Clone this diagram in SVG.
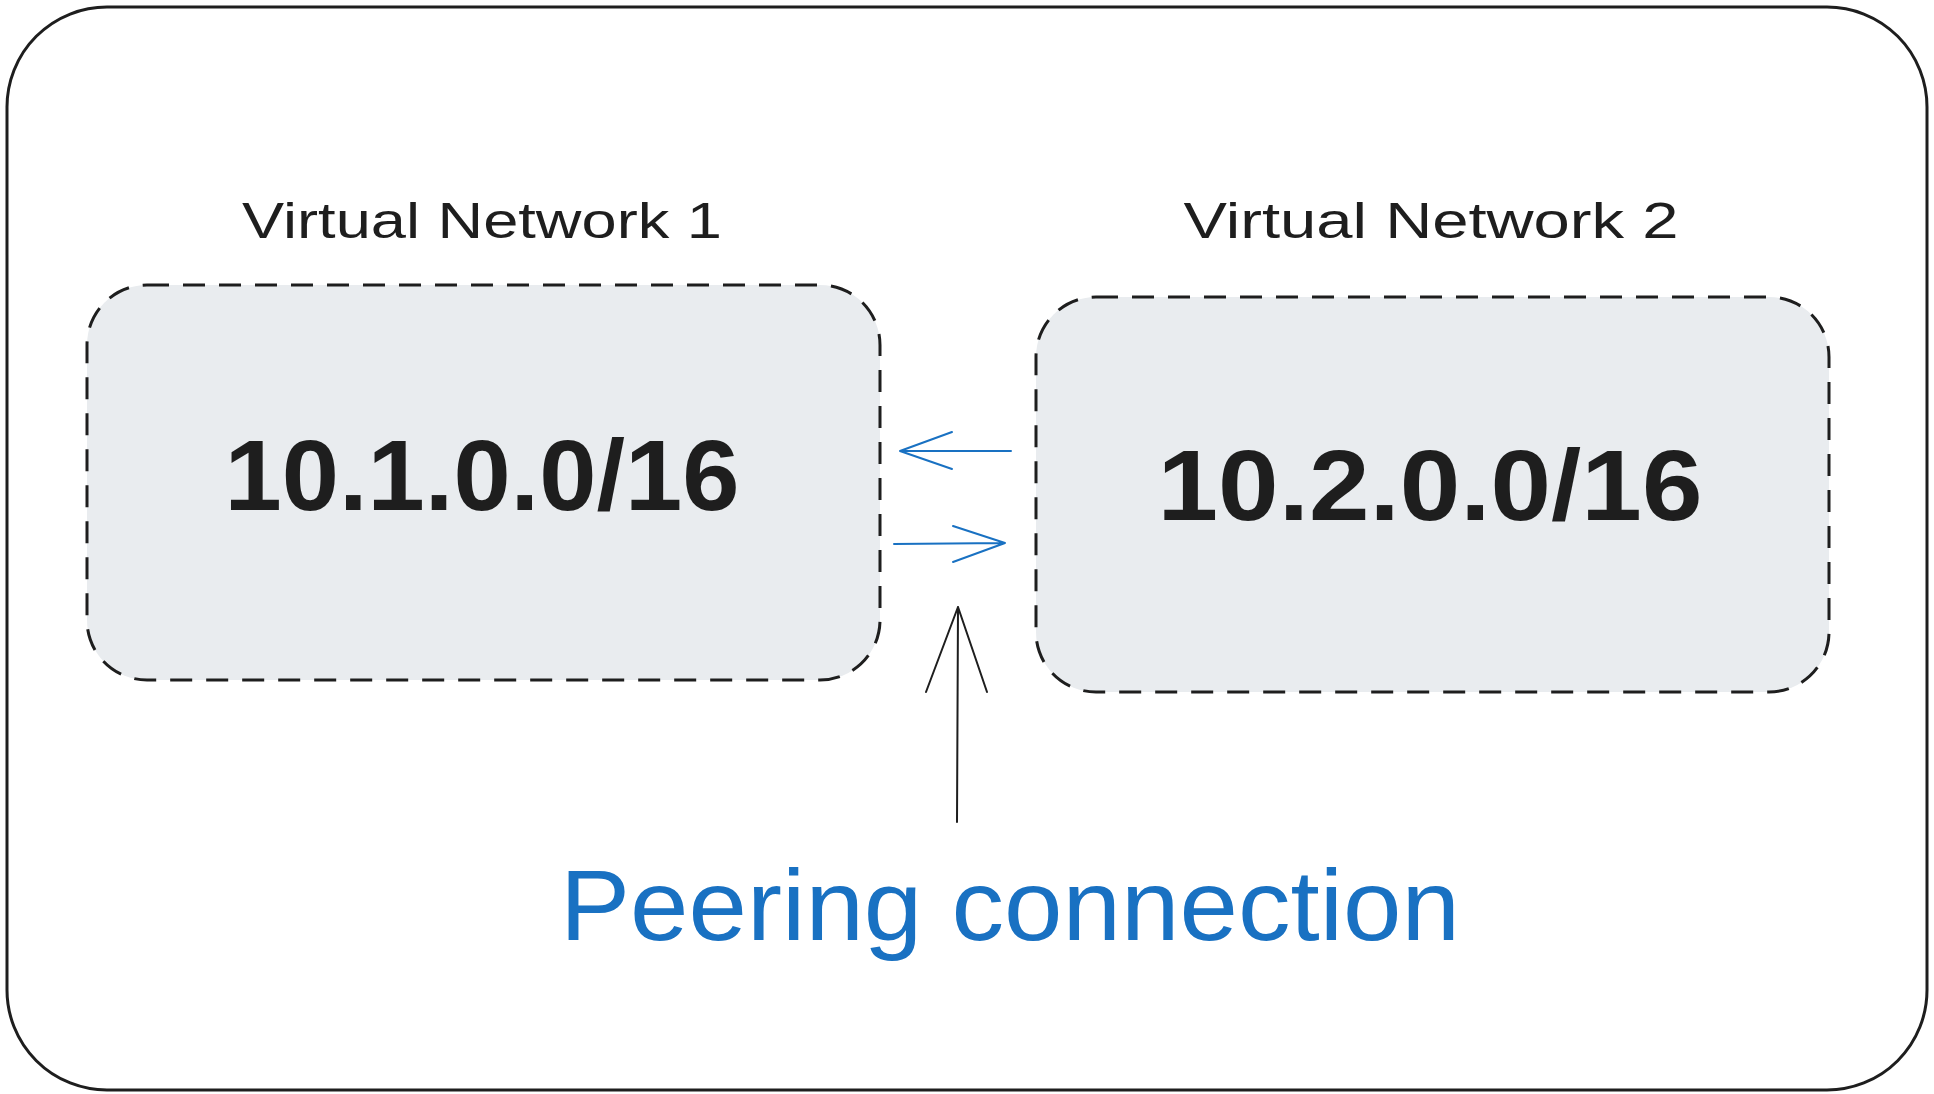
<svg xmlns="http://www.w3.org/2000/svg" width="1934" height="1094" viewBox="0 0 1934 1094">
<style>
.box{fill:#e9ecef;stroke:#1e1e1e;stroke-width:3;stroke-dasharray:22 14}
.t{font-family:"Liberation Sans",Arial,sans-serif;fill:#1e1e1e;text-anchor:middle}
.blue{stroke:#1971c2;stroke-width:2;fill:none;stroke-linecap:round}
.blk{stroke:#1e1e1e;stroke-width:2;fill:none;stroke-linecap:round}
</style>
<rect width="1934" height="1094" fill="#fff"/>
<g id="frame"><rect x="7" y="7" width="1920" height="1083" rx="100" fill="none" stroke="#1e1e1e" stroke-width="3"/></g>
<g id="vnet1">
<rect class="box" x="87" y="285" width="793" height="395" rx="60"/>
<text class="t" x="482" y="238" font-size="50" textLength="480" lengthAdjust="spacingAndGlyphs">Virtual Network 1</text>
<text class="t" x="482" y="510" font-size="100" font-weight="bold" textLength="515" lengthAdjust="spacingAndGlyphs">10.1.0.0/16</text>
</g>
<g id="vnet2">
<rect class="box" x="1036" y="297" width="793" height="395" rx="60"/>
<text class="t" x="1431" y="238" font-size="50" textLength="495" lengthAdjust="spacingAndGlyphs">Virtual Network 2</text>
<text class="t" x="1430" y="520" font-size="100" font-weight="bold" textLength="545" lengthAdjust="spacingAndGlyphs">10.2.0.0/16</text>
</g>
<g id="label"><text class="t" x="1010" y="940" font-size="100" fill="#1971c2" style="fill:#1971c2" textLength="900" lengthAdjust="spacingAndGlyphs">Peering connection</text></g>
<g id="connectors">
<path class="blue" d="M1011 451 L900 451 M900 451 L952 432 M900 451 L952 469"/>
<path class="blue" d="M894 544 L1005 543 M1005 543 L953 526 M1005 543 L953 562"/>
<path class="blk" d="M957 822 L958 607 M958 607 L926 692 M958 607 L987 692"/>
</g>
</svg>
